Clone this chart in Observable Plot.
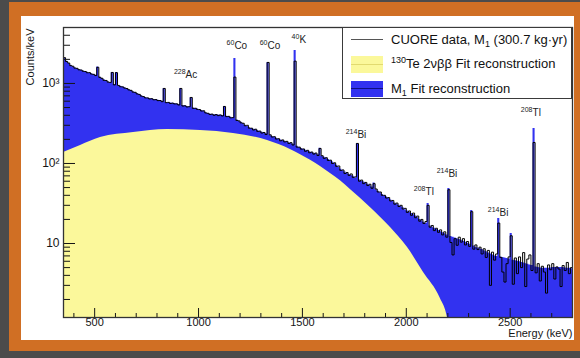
<!DOCTYPE html>
<html><head><meta charset="utf-8">
<script src="https://cdn.jsdelivr.net/npm/d3@7"></script>
<script src="https://cdn.jsdelivr.net/npm/@observablehq/plot@0.6"></script>
<style>
html,body{margin:0;padding:0;}
body{width:580px;height:358px;overflow:hidden;position:relative;background:#4b4b4b;font-family:"Liberation Sans",Arial,sans-serif;}
#orange{position:absolute;left:9px;top:2px;width:580px;height:349px;background:#d06f24;}
#card{position:absolute;left:21px;top:16px;width:553px;height:324px;background:#fff;}
#chart{position:absolute;left:0;top:0;}
#legend{position:absolute;left:342px;top:27px;width:228px;height:70px;border:1px solid #3a3a3a;background:#fff;font-size:13px;color:#111;}
#legend .t{position:absolute;left:48px;line-height:16px;white-space:nowrap;}
#legend .sw{position:absolute;left:8px;width:32px;}
#legend sup{font-size:9px;vertical-align:5px;line-height:0;}
#legend sub{font-size:9px;vertical-align:-3px;line-height:0;}
</style>
</head><body>
<div id="orange"></div>
<div id="card"></div>
<div id="chart"></div>
<div id="legend">
  <div class="sw" style="top:11px;height:1px;background:#555;"></div>
  <div class="t" style="top:4px;">CUORE data, M<sub>1</sub> (300.7 kg·yr)</div>
  <div class="sw" style="top:28px;height:17px;background:#fbf89b;"><div style="margin-top:8px;height:1px;background:#e2da70;"></div></div>
  <div class="t" style="top:28px;"><sup>130</sup>Te 2νββ Fit reconstruction</div>
  <div class="sw" style="top:53px;height:16px;background:#3232f0;"><div style="margin-top:7px;height:1px;background:#101080;"></div></div>
  <div class="t" style="top:53px;">M<sub>1</sub> Fit reconstruction</div>
</div>
<script>
// Histogram binning (keV)
const binStart = 350;
const binWidth = 10;

// CUORE data, M1 (counts/keV per 10 keV bin, 350-2800 keV)
const dataCounts = [
2100,1880,1800,1670,1640,1555,1545,1480,1470,1420,
1410,1360,1365,1310,1300,1255,1590,1190,1160,1095,
1090,1040,1030,1372,960,1365,945,910,905,875,
865,830,820,780,775,740,730,695,685,660,
660,640,645,625,628,610,612,592,866,575,
580,562,568,555,556,538,866,522,526,508,
512,668,488,490,474,472,452,455,428,424,
410,414,400,408,396,404,392,516,385,388,
372,374,1200,345,340,322,318,296,300,276,
276,262,268,252,254,240,244,230,1830,228,
214,216,202,204,192,197,186,189,178,182,
170,1900,160,160,151,152,142,146,136,139,
131,135,126,154,125,116,118,109,110,100,
102,92,93,82,83,75,77,71,74,67,
68,178,60,62,56,58,53,55,49,56,
48,44,44,40,40,37,37.5,34,34.5,31,
32,29,30,27,27.5,24.5,25.5,22.5,24,21,
22,19,20,17.8,18.8,30,16,16.8,14.5,15.5,
13.8,14.8,12.8,14,12,47,10.3,7.2,11.5,9.5,
12,10.4,11.5,9.6,10.6,9.2,25,8.5,9.6,8.4,
9,7.4,8.6,6.7,8.2,3.0,7.8,6.2,7.4,18,
6.7,4.4,3.3,5.6,6.8,12.5,3.1,6.6,4.2,6.8,
5,7.7,2.9,6.4,7.2,4.6,183,4.3,5.6,3.4,
5.2,4.4,2.4,5.4,4.7,5.6,3.6,5.1,4.8,2.9,
5.3,4.6,5.8,4.2,5.0];

// M1 fit reconstruction (same binning)
const modelCounts = [
2050,1900,1780,1690,1620,1570,1530,1490,1460,1430,
1400,1375,1350,1320,1295,1265,1600,1200,1150,1110,
1080,1050,1020,1370,970,1370,935,920,900,885,
860,840,815,790,770,750,725,700,680,665,
655,648,640,632,624,615,607,598,866,580,
575,570,565,560,553,545,866,530,522,515,
507,668,493,487,480,470,460,450,435,420,
415,410,407,405,402,400,398,516,390,385,
378,370,2050,350,338,328,314,300,290,280,
273,268,263,258,251,245,240,235,1830,225,
218,212,206,200,196,193,190,186,182,178,
174,2580,164,158,154,150,146,143,140,137,
134,132,129,155,123,120,116,112,108,104,
100,95,90,85,81,78,75,73,71,69,
66,178,62,60,58.5,57,55,53,51,57,
47,45,43,41,39.5,38,36.5,35,33.5,32,
31,30,29,28,26.5,25.5,24.5,23.7,22.8,22,
21,20,19.2,18.5,17.8,31.6,16.5,16,15.5,15,
14.5,14,13.6,13.2,12.8,48.7,12.2,12,11.7,11.5,
11.2,11,10.7,10.4,10.1,9.8,25.9,9.3,9,8.8,
8.6,8.4,8.1,7.9,7.6,7.4,7.2,7,6.9,20.5,
6.8,6.7,6.6,6.5,6.4,13.3,6.2,6.1,6,5.9,
5.8,5.7,5.6,5.5,5.4,5.3,274,5.1,5,4.95,
4.9,4.9,4.9,4.9,4.95,5,5,5,5,5,
5,4.95,4.9,4.9,4.85];

// 130Te 2vbb fit reconstruction (read points)
const tbbEnergy = [350, 432, 528, 687, 850, 1009, 1168, 1332, 1442, 1491, 1587, 1635, 1683, 1731, 1827, 1924, 2006, 2083, 2164, 2198, 2230];
const tbbCounts = [137, 168, 211, 244, 266, 258, 237, 194, 150, 129, 92, 75, 61, 47.3, 28.2, 15.8, 8.9, 4.34, 2.05, 1.19, 0.3];

// Peak labels: mass number (superscript) + element
const peakMass = ["228", "60", "60", "40", "214", "208", "214", "214", "208"];
const peakElement = ["Ac", "Co", "Co", "K", "Bi", "Tl", "Bi", "Bi", "Tl"];
const peakLabelEnergy = [952, 1187, 1346, 1500, 1779, 2107, 2217, 2463, 2622];
const peakLabelCounts = [1296, 2985, 2985, 3548, 230, 44.7, 75, 24.4, 434];

// Axis ticks
const xMajor = [500, 1000, 1500, 2000, 2500];
const xMinor = [400, 600, 700, 800, 900, 1100, 1200, 1300, 1400, 1600, 1700, 1800, 1900, 2100, 2200, 2300, 2400, 2600, 2700];
const yMajor = [10, 100, 1000];
const yMajorLabels = ["10", "10²", "10³"];
const yMinor = [2,3,4,5,6,7,8,9,20,30,40,50,60,70,80,90,200,300,400,500,600,700,800,900,2000,3000,4000];
const yDomain = [1.19, 5000];

const toRows = (arr) => {
  const rows = arr.map((c, i) => ({e: binStart + i * binWidth, c}));
  rows.push({e: binStart + arr.length * binWidth, c: arr[arr.length - 1]});
  return rows;
};
const dataRows = toRows(dataCounts);
const modelRows = toRows(modelCounts);
const tbbRows = tbbEnergy.map((e, i) => ({e, c: tbbCounts[i]}));
const peakRows = peakMass.map((m, i) => ({m, el: peakElement[i], e: peakLabelEnergy[i], c: peakLabelCounts[i]}));
const base = yDomain[0] * 0.5;

const chart = Plot.plot({
  width: 580, height: 358,
  marginLeft: 63, marginRight: 8, marginTop: 27, marginBottom: 41,
  style: {background: "transparent", fontFamily: "Liberation Sans, Arial, sans-serif", fontSize: "12px", color: "#151515"},
  x: {domain: [350, 2800]},
  y: {type: "log", domain: yDomain},
  marks: [
    Plot.areaY(modelRows, {x: "e", y1: base, y2: "c", curve: "step-after", fill: "#3232f0", clip: true}),
    Plot.areaY(tbbRows, {x: "e", y1: base, y2: "c", curve: "monotone-x", fill: "#fbf89b", clip: true}),
    Plot.line(dataRows, {x: "e", y: "c", curve: "step-after", stroke: "#000", strokeWidth: 1, clip: true}),
    Plot.text(peakRows, {x: "e", y: "c", text: "m", fontSize: 7, textAnchor: "end", dx: -3, dy: -3, fill: "#222"}),
    Plot.text(peakRows, {x: "e", y: "c", text: "el", fontSize: 10, textAnchor: "start", dx: -3, fill: "#222"}),
    Plot.axisX({ticks: xMajor, tickSize: 0, tickPadding: 1, fontSize: 11, tickFormat: d => String(d), label: null}),
    Plot.axisX({ticks: xMajor, tickSize: 9, dy: -9, fill: "none", label: null}),
    Plot.axisX({ticks: xMinor, tickSize: 4, dy: -4, fill: "none", label: null}),
    Plot.axisY({ticks: yMajor, tickSize: 0, tickPadding: 4, tickFormat: d => yMajorLabels[yMajor.indexOf(d)], label: null}),
    Plot.axisY({ticks: yMajor, tickSize: 12, dx: 12, fill: "none", label: null}),
    Plot.axisY({ticks: yMinor, tickSize: 7, dx: 7, fill: "none", label: null}),
    Plot.frame({stroke: "#333", strokeWidth: 1.3}),
    Plot.text(["Energy (keV)"], {frameAnchor: "bottom-right", dy: 19, textAnchor: "end", fontSize: 11}),
    Plot.text(["Counts/keV"], {frameAnchor: "top-left", dx: -37, dy: 1, rotate: -90, textAnchor: "end", fontSize: 11})
  ]
});
document.getElementById("chart").appendChild(chart);
</script>
</body></html>
